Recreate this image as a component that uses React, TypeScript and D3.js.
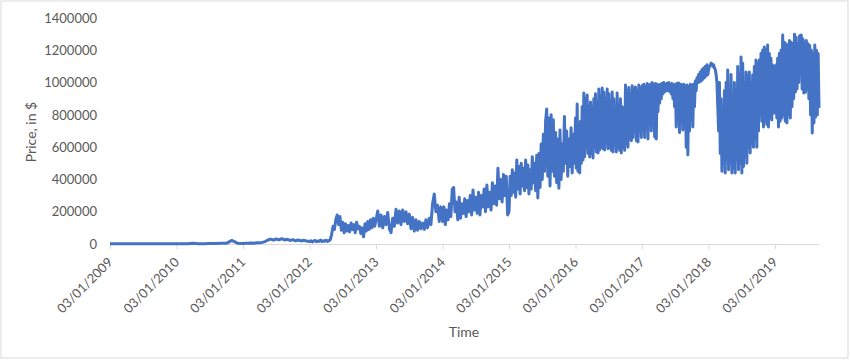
import { useEffect, useRef } from "react";
import * as d3 from "d3";

// Price in thousands of $, samples spread evenly over each year from its 03/01
const p2009 = [1, 1, 1, 1, 1, 1];
const p2010 = [1, 1, 2, 5, 2, 2, 3, 3, 4, 4, 22, 5];
const p2011 = [
  3, 5, 4, 6, 5, 8, 7, 10, 15, 25, 30, 24, 31, 26, 33, 25, 29, 22, 27, 20, 25, 19, 23, 18,
];
const p2012 = [
  15, 20, 13, 18, 22, 14, 19, 16, 24, 15, 20, 17, 23, 16, 21, 25, 60, 110, 90, 150, 180, 120, 170, 85,
  135, 70, 125, 80, 115, 75, 130, 90, 120, 70, 135, 95, 110, 65, 100, 45, 125, 80, 140, 90, 150, 100,
  160, 110,
];
const p2013 = [
  150, 205, 110, 180, 100, 170, 120, 195, 95, 70, 160, 110, 215, 130, 205, 120, 210, 140, 200, 125,
  185, 95, 165, 80, 150, 85, 140, 95, 130, 90, 150, 100, 160, 120, 250, 310, 200, 240, 140, 230,
];
const p2014 = [
  140, 230, 120, 210, 150, 250, 170, 340, 350, 200, 260, 150, 290, 160, 250, 190, 280, 170, 270, 200,
  300, 180, 335, 210, 290, 190, 320, 180, 300, 230, 340, 200, 365, 230, 320, 210, 380, 250, 360, 240,
  470, 280, 400, 260, 430, 300, 420, 180,
];
const p2015 = [
  200, 420, 300, 460, 320, 440, 290, 520, 340, 480, 310, 500, 360, 470, 330, 520, 350, 490, 310, 460,
  340, 540, 380, 500, 330, 550, 285, 560, 350, 620, 400, 680, 450, 760, 836, 420, 780, 360, 800, 450,
  770, 420, 690, 380, 650, 345, 706, 400, 620, 450, 790, 500, 700, 420, 650, 480, 720, 440, 680, 500,
];
const p2016 = [
  780, 470, 867, 450, 700, 440, 760, 500, 850, 520, 935, 540, 900, 600, 923, 560, 850, 539, 880, 560,
  849, 533, 900, 600, 930, 570, 880, 564, 960, 582, 920, 600, 966, 590, 940, 582, 900, 620, 960, 590,
  930, 600, 880, 580, 942, 570, 900, 610, 830, 570, 935, 600, 860, 580, 900, 564, 850, 600, 843, 580,
  985, 620, 950, 600, 970, 650, 930, 640, 980, 660, 960, 700, 973, 640, 950, 632, 985, 700, 970, 660,
];
const p2017 = [
  980, 700, 990, 660, 975, 720, 995, 650, 985, 740, 990, 700, 1000, 750, 985, 663, 995, 650, 990, 820,
  985, 873, 990, 900, 995, 930, 1000, 942, 990, 950, 995, 950, 1000, 945, 990, 930, 995, 900, 985, 850,
  990, 725, 995, 780, 997, 690, 990, 900, 985, 706, 990, 800, 980, 600, 985, 552, 975, 700, 990, 800,
  985, 725, 990, 850, 1010, 950, 1030, 1000, 1050, 1003, 1066, 1010, 1080, 1020, 1090, 1030, 1100,
  1040, 1110, 1050,
];
const p2018 = [
  1080, 1100, 1110, 1121, 1115, 1100, 1110, 1090, 1080, 1050, 1000, 850, 700, 1000, 560, 900, 450, 800,
  500, 950, 440, 1000, 520, 1078, 460, 900, 500, 1050, 440, 850, 470, 1000, 440, 960, 520, 1100, 460,
  1050, 500, 1158, 440, 1120, 480, 1000, 540, 1066, 500, 1040, 600, 1066, 564, 1000, 620, 1047, 600,
  1100, 650, 1140, 600, 1120, 700, 1140, 800, 1180, 760, 1200, 725, 1220, 760, 1200, 740, 1233, 725,
  1180, 780, 1150, 768, 1109, 811, 1100,
];
const p2019 = [
  811, 1109, 780, 1150, 725, 1180, 760, 1200, 780, 1295, 800, 1250, 760, 1240, 750, 1230, 800, 1260,
  780, 1250, 850, 1240, 900, 1300, 942, 1280, 960, 1240, 1000, 1290, 1100, 1295, 960, 1270, 935, 1250,
  940, 1260, 960, 1240, 900, 1230, 800, 1200, 688, 1180, 750, 1233, 787, 1200, 800, 1180, 842,
];

const tickLabels = [
  "03/01/2009",
  "03/01/2010",
  "03/01/2011",
  "03/01/2012",
  "03/01/2013",
  "03/01/2014",
  "03/01/2015",
  "03/01/2016",
  "03/01/2017",
  "03/01/2018",
  "03/01/2019",
];
const lastDay = "01/09/2019";
const yTicks = [0, 200000, 400000, 600000, 800000, 1000000, 1200000, 1400000];

const FONT = "Lato, 'Open Sans', sans-serif";
const TEXT = "#595959";

export default function App() {
  const ref = useRef<SVGSVGElement>(null);

  useEffect(() => {
    if (!ref.current) return;
    const svg = d3.select(ref.current);
    svg.selectAll("*").remove();

    const width = 850;
    const height = 361;
    const parse = d3.timeParse("%d/%m/%Y");
    const starts = tickLabels.map((s) => parse(s)!);
    const end = parse(lastDay)!;

    const x = d3.scaleTime().domain([starts[0], end]).range([110, 819]);
    const y = d3.scaleLinear().domain([0, 1400000]).range([244, 18]);

    const years = [p2009, p2010, p2011, p2012, p2013, p2014, p2015, p2016, p2017, p2018, p2019];
    const data: { date: Date; value: number }[] = [];
    years.forEach((vals, k) => {
      const last = k === years.length - 1;
      const a = starts[k].getTime();
      const b = last ? end.getTime() : starts[k + 1].getTime();
      const n = last ? vals.length - 1 : vals.length;
      vals.forEach((v, i) => {
        data.push({ date: new Date(a + ((b - a) * i) / n), value: v * 1000 });
      });
    });

    svg.attr("width", width).attr("height", height);

    svg
      .append("rect")
      .attr("x", 1)
      .attr("y", 1)
      .attr("width", 847)
      .attr("height", 357)
      .attr("fill", "#fff")
      .attr("stroke", "#d9d9d9");

    // Y axis labels only
    const gy = svg
      .append("g")
      .attr("transform", "translate(110,0)")
      .call(d3.axisLeft(y).tickValues(yTicks).tickSize(0).tickPadding(13).tickFormat((d) => String(d)));
    gy.select(".domain").remove();
    gy.selectAll("text").attr("fill", TEXT).style("font-family", FONT).style("font-size", "13px");

    // X axis
    const gx = svg
      .append("g")
      .attr("transform", "translate(0,244)")
      .call(
        d3
          .axisBottom(x)
          .tickValues(starts)
          .tickSize(5)
          .tickSizeOuter(0)
          .tickFormat((_, i) => tickLabels[i])
      );
    gx.select(".domain").attr("stroke", "#d9d9d9");
    gx.selectAll(".tick line").attr("stroke", "#d9d9d9");
    gx.selectAll("text")
      .attr("x", null)
      .attr("y", null)
      .attr("dy", null)
      .attr("transform", "translate(3,19) rotate(-45)")
      .attr("fill", TEXT)
      .style("text-anchor", "end")
      .style("font-family", FONT)
      .style("font-size", "13px");

    const line = d3
      .line<{ date: Date; value: number }>()
      .x((d) => x(d.date))
      .y((d) => y(d.value));

    svg
      .append("path")
      .datum(data)
      .attr("fill", "none")
      .attr("stroke", "#4472c4")
      .attr("stroke-width", 3)
      .attr("stroke-linejoin", "round")
      .attr("d", line);

    // Axis titles
    svg
      .append("text")
      .attr("x", 464)
      .attr("y", 337)
      .attr("text-anchor", "middle")
      .attr("fill", TEXT)
      .style("font-family", FONT)
      .style("font-size", "14px")
      .text("Time");

    svg
      .append("text")
      .attr("transform", "translate(36,132) rotate(-90)")
      .attr("text-anchor", "middle")
      .attr("fill", TEXT)
      .style("font-family", FONT)
      .style("font-size", "14px")
      .text("Price, in $");
  }, []);

  return <svg ref={ref} style={{ position: "absolute", left: 0, top: 0, display: "block" }} />;
}
